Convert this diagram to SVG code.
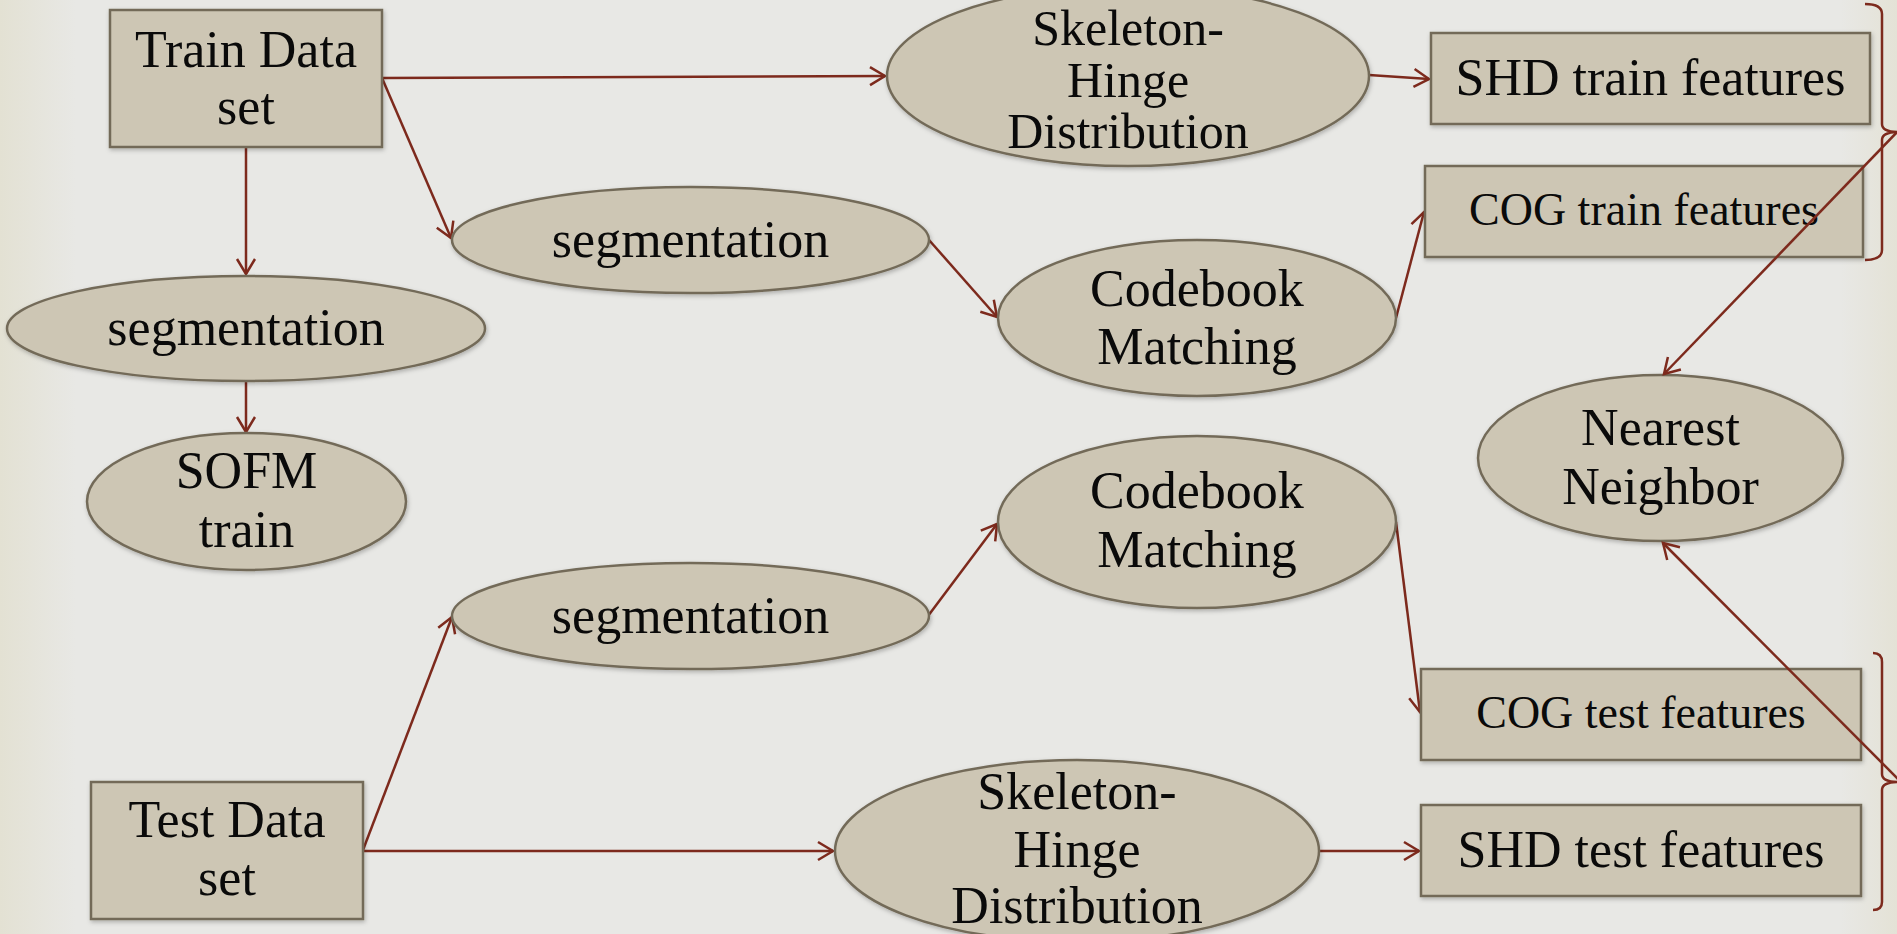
<svg xmlns="http://www.w3.org/2000/svg" width="1897" height="934" viewBox="0 0 1897 934">
  <defs>
    <linearGradient id="bg" x1="0" y1="0" x2="1" y2="0">
      <stop offset="0" stop-color="#e3e1d3"/>
      <stop offset="0.04" stop-color="#e8e8e5"/>
      <stop offset="0.97" stop-color="#e8e8e5"/>
      <stop offset="1" stop-color="#e4e2d6"/>
    </linearGradient>
    <filter id="sh" x="-10%" y="-10%" width="120%" height="130%">
      <feDropShadow dx="1" dy="2" stdDeviation="2" flood-color="#000" flood-opacity="0.25"/>
    </filter>
    <marker id="arr" markerUnits="userSpaceOnUse" markerWidth="24" markerHeight="24" viewBox="-20 -12 24 24" refX="0" refY="0" orient="auto">
      <path d="M-15,-9 L0,0 L-15,9" fill="none" stroke="#7d2a1d" stroke-width="2.5"/>
    </marker>
  </defs>
  <style>
    .n { fill: #cdc6b4; stroke: #736b59; stroke-width: 2.5; filter: url(#sh); }
    .t { font-family: "Liberation Serif", "Times New Roman", serif; font-size: 52px; fill: #0a0a0a; text-anchor: middle; }
    .s { font-size: 46px; }
    .m { font-size: 50px; }
    .c { fill: none; stroke: #7d2a1d; stroke-width: 2.5; }
  </style>
  <rect x="0" y="0" width="1897" height="934" fill="url(#bg)"/>

  <g id="connectors">
    <line class="c" x1="382" y1="78" x2="885" y2="76" marker-end="url(#arr)"/>
    <line class="c" x1="382" y1="78" x2="451" y2="238" marker-end="url(#arr)"/>
    <line class="c" x1="246" y1="147" x2="246" y2="274" marker-end="url(#arr)"/>
    <line class="c" x1="246" y1="381" x2="246" y2="432" marker-end="url(#arr)"/>
    <line class="c" x1="929" y1="240" x2="997" y2="317" marker-end="url(#arr)"/>
    <line class="c" x1="1396" y1="318" x2="1424" y2="212" marker-end="url(#arr)"/>
    <line class="c" x1="1369" y1="75" x2="1429" y2="79" marker-end="url(#arr)"/>
    <line class="c" x1="363" y1="850" x2="452" y2="617" marker-end="url(#arr)"/>
    <line class="c" x1="363" y1="851" x2="833" y2="851" marker-end="url(#arr)"/>
    <line class="c" x1="928" y1="616" x2="997" y2="524" marker-end="url(#arr)"/>
    <line class="c" x1="1396" y1="522" x2="1420" y2="712" marker-end="url(#arr)"/>
    <line class="c" x1="1320" y1="851" x2="1419" y2="851" marker-end="url(#arr)"/>
    <path class="c" d="M1865,4 Q1882,4 1882,14 L1882,124 Q1882,132 1899,132 Q1882,132 1882,140 L1882,250 Q1882,260 1865,260"/>
    <path class="c" d="M1873,653 Q1882,653 1882,662 L1882,774 Q1882,782 1899,782 Q1882,782 1882,790 L1882,902 Q1882,910 1873,910"/>
  </g>

  <g id="train-data">
    <rect class="n" x="110" y="10" width="272" height="137"/>
    <text class="t" x="246" y="67">Train Data</text>
    <text class="t" x="246" y="124">set</text>
  </g>
  <g id="segmentation-left">
    <ellipse class="n" cx="246" cy="328.5" rx="239" ry="52.5"/>
    <text class="t" x="246" y="345">segmentation</text>
  </g>
  <g id="sofm-train">
    <ellipse class="n" cx="246.5" cy="501.5" rx="159.5" ry="68.5"/>
    <text class="t" x="246.5" y="488">SOFM</text>
    <text class="t" x="246.5" y="547">train</text>
  </g>
  <g id="skeleton-train">
    <ellipse class="n" cx="1128" cy="76" rx="241" ry="90"/>
    <text class="t m" x="1128" y="45">Skeleton-</text>
    <text class="t m" x="1128" y="97">Hinge</text>
    <text class="t m" x="1128" y="148">Distribution</text>
  </g>
  <g id="segmentation-train">
    <ellipse class="n" cx="690.5" cy="240" rx="238.5" ry="53"/>
    <text class="t" x="690.5" y="257">segmentation</text>
  </g>
  <g id="codebook-train">
    <ellipse class="n" cx="1197" cy="318" rx="199" ry="78"/>
    <text class="t" x="1197" y="306">Codebook</text>
    <text class="t" x="1197" y="364">Matching</text>
  </g>
  <g id="shd-train">
    <rect class="n" x="1431" y="33" width="439" height="91"/>
    <text class="t" x="1650.5" y="95">SHD train features</text>
  </g>
  <g id="cog-train">
    <rect class="n" x="1425" y="166" width="438" height="91"/>
    <text class="t s" x="1644" y="225">COG train features</text>
  </g>
  <g id="nearest-neighbor">
    <ellipse class="n" cx="1660.5" cy="458" rx="182.5" ry="83"/>
    <text class="t" x="1660.5" y="445">Nearest</text>
    <text class="t" x="1660.5" y="504">Neighbor</text>
  </g>
  <g id="codebook-test">
    <ellipse class="n" cx="1197" cy="522" rx="199" ry="86"/>
    <text class="t" x="1197" y="508">Codebook</text>
    <text class="t" x="1197" y="567">Matching</text>
  </g>
  <g id="segmentation-test">
    <ellipse class="n" cx="690.5" cy="616" rx="238.5" ry="53"/>
    <text class="t" x="690.5" y="633">segmentation</text>
  </g>
  <g id="cog-test">
    <rect class="n" x="1421" y="669" width="440" height="91"/>
    <text class="t s" x="1641" y="728">COG test features</text>
  </g>
  <g id="test-data">
    <rect class="n" x="91" y="782" width="272" height="137"/>
    <text class="t" x="227" y="837">Test Data</text>
    <text class="t" x="227" y="895">set</text>
  </g>
  <g id="skeleton-test">
    <ellipse class="n" cx="1077" cy="851" rx="242" ry="91"/>
    <text class="t" x="1077" y="809">Skeleton-</text>
    <text class="t" x="1077" y="867">Hinge</text>
    <text class="t" x="1077" y="923">Distribution</text>
  </g>
  <g id="shd-test">
    <rect class="n" x="1421" y="805" width="440" height="91"/>
    <text class="t" x="1641" y="867">SHD test features</text>
  </g>

  <g id="connectors-top">
    <line class="c" x1="1900" y1="129" x2="1664" y2="374" marker-end="url(#arr)"/>
    <line class="c" x1="1900" y1="781" x2="1663" y2="543" marker-end="url(#arr)"/>
  </g>
</svg>
